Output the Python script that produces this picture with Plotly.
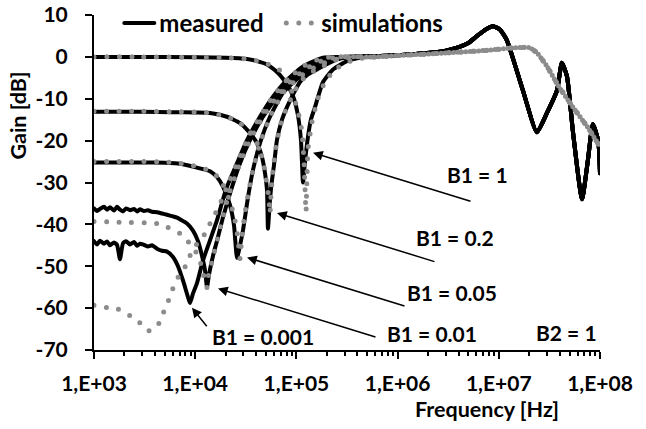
import plotly.graph_objects as go

# ---------------- data (frequency in Hz, gain in dB) ----------------
# measured, low/mid-frequency part of each B1 curve
f_meas_b1_1 = [1000, 3000, 10000, 20000, 32500, 40800, 51230, 61500, 73740, 86470, 94600, 103700, 111000,
               116200, 121600, 130200, 139000, 152700, 183200, 230000, 316000, 424600]
g_meas_b1_1 = [0, 0, -0.1, -0.2, -0.5, -1.0, -1.8, -3.2, -5.2, -7.8, -10, -14, -20,
               -30, -25, -19, -15, -12, -6, -3, -1, -0.2]

f_meas_b1_02 = [1000, 3000, 6000, 10000, 14000, 20610, 27720, 34790, 40800, 45710, 48980, 51230, 52360,
                54830, 57410, 60080, 64300, 72070, 80750, 92560, 108500, 130200, 159800, 251800, 362300]
g_meas_b1_02 = [-13.1, -13.1, -13.2, -13.3, -13.4, -14.3, -15.8, -18.2, -20.6, -23.9, -27.8, -31.8, -41,
                -34, -29.4, -25.8, -19.8, -15, -12, -9, -6, -4.2, -3, -0.6, 0]

f_meas_b1_005 = [1000, 3000, 5000, 7079, 9510, 11940, 14000, 16420, 18820, 22080, 24170, 25880, 27720,
                 29680, 33260, 37250, 43650, 54830, 73740, 108500, 171100, 288800, 424600]
g_meas_b1_005 = [-25.2, -25.2, -25.3, -25.5, -26.2, -26.8, -27.3, -28.7, -31, -35.4, -40.2, -48, -45,
                 -41.4, -33.5, -27, -20.6, -14.3, -8.6, -4.7, -1.8, -0.2, 0]

f_meas_b1_001 = [1000, 1071, 1146, 1256, 1344, 1439, 1576, 1688, 1806, 1935,
                 2071, 2268, 2485, 2660, 2848, 3120, 3417, 3742, 4194, 4699,
                 5265, 6035, 6612, 7079, 8298, 9510, 10660, 11670, 12500, 13080,
                 13690, 15000, 16800, 18820, 22080, 27720, 34790, 46770, 64300, 86470,
                 121600, 191700, 302100]
g_meas_b1_001 = [-36.2, -36.8, -36.3, -35.8, -36.5, -35.9, -36.7, -35.8, -36.5, -36.9,
                 -36.2, -36.6, -36.3, -36.9, -36.4, -36.8, -36.6, -37.0, -37.1, -37.4,
                 -37.7, -38.1, -38.4, -38.8, -39.8, -41.5, -44, -47.5, -51, -55,
                 -52, -47.5, -43, -38.3, -32.6, -25.4, -19.9, -14.3, -9.5, -6,
                 -3, -0.6, 0]

f_meas_b1_0001 = [1000, 1071, 1146, 1256, 1344, 1439, 1576, 1688, 1806, 1935,
                  2071, 2268, 2485, 2660, 2848, 3120, 3417, 3742, 4194, 4699,
                  5265, 6035, 6761, 7574, 8492, 8884, 9510, 10420, 11940, 14000,
                  16420, 18820, 20610, 25880, 32510, 43650, 58720, 80750, 116200, 183200,
                  269700]
g_meas_b1_0001 = [-44.0, -44.8, -43.9, -44.6, -44.1, -45.0, -44.3, -44.9, -48.3, -44.5,
                  -44.0, -44.8, -44.2, -45.1, -44.6, -44.9, -45.3, -45.0, -45.8, -46.3,
                  -46.5, -47.8, -50, -53.4, -57.4, -58.8, -56.5, -54, -48.6, -43.8,
                  -39, -34, -31, -25.4, -19.9, -14.3, -9.5, -5.5, -2.3, -0.2,
                  0]

# measured, common high-frequency part (all B1 curves coincide)
f_meas_hf = [670000, 1200000, 2090000, 3000000, 3870000, 5000000, 6100000, 7500000, 8800000, 10300000,
             12000000, 17300000, 23800000, 29900000, 37600000, 42000000, 47200000, 54100000, 66400000,
             76000000, 85000000, 96000000, 100000000]
g_meas_hf = [0.2, 0.5, 1.0, 1.5, 2.2, 3.3, 5.0, 6.6, 7.3, 6.5,
             4.0, -8, -18, -13.4, -8, -1.4, -4.7, -18, -34,
             -24.6, -16, -20, -27.8]

# simulations
f_sim_b1_1 = [1000, 3000, 10000, 20000, 32500, 45700, 58700, 68870, 80750, 92560, 103700, 113600, 118900,
              124400, 127300, 130200, 142600, 163000, 191700, 240000, 340000, 480000]
g_sim_b1_1 = [0, 0, -0.1, -0.2, -0.5, -1.2, -2.2, -3.2, -5.5, -9, -13, -18, -25,
              -37, -28, -22, -15.5, -10, -6, -3, -1, -0.2]

f_sim_b1_02 = [1000, 3000, 6000, 10000, 14000, 20610, 27720, 34790, 40800, 45710, 48980, 51230, 53600,
               54830, 56100, 58720, 64300, 72070, 80750, 92560, 108500, 130200, 159800, 251800, 362300]
g_sim_b1_02 = [-13, -13, -13.1, -13.2, -13.4, -14.3, -15.8, -18.2, -20.6, -23.9, -27.5, -30.5, -34,
               -37.4, -33, -27, -20, -15, -12, -9, -6, -4.2, -3, -0.6, 0]

f_sim_b1_005 = [1000, 3000, 5000, 7079, 9510, 11940, 14000, 16420, 18820, 22080, 24700, 26500, 27720,
                28700, 30700, 33260, 37250, 43650, 54830, 73740, 108500, 171100, 288800, 424600]
g_sim_b1_005 = [-25, -25, -25.1, -25.4, -26, -26.6, -27.2, -28.5, -30.5, -34.5, -39, -43.5, -48.2,
                -44, -38, -33, -27, -20.6, -14.3, -8.6, -4.7, -1.8, -0.2, 0]

f_sim_b1_001 = [1000, 1935, 4194, 5383, 7079, 8884, 10420, 11670, 12500, 13080, 13380, 15000, 16800,
                18820, 21090, 27720, 34790, 46770, 64300, 86470, 121600, 191700, 302100]
g_sim_b1_001 = [-39.3, -39.5, -39.8, -40.7, -42.2, -44.6, -47, -50.3, -53.9, -55.1, -52.7, -47.9, -43,
                -38.3, -33.5, -25.4, -19.9, -14.3, -9.5, -6, -3, -0.6, 0]

f_sim_b1_0001 = [1000, 1344, 1727, 2268, 2848, 3495, 4290, 4806, 5383, 5902,
                 6761, 8298, 8884, 10420, 12500, 14000, 16420, 18820, 20610, 25880,
                 32510, 43650, 58720, 80750, 116200, 183200, 269700]
g_sim_b1_0001 = [-59.3, -59.9, -60.2, -61.8, -63.5, -65.4, -64, -61.3, -58.5, -55.8,
                 -52.7, -49.4, -47.5, -44.6, -42.2, -39.8, -36.6, -33.5, -31, -25.4,
                 -19.9, -14.3, -9.5, -5.5, -2.3, -0.2, 0]

f_sim_hf = [600000, 1000000, 3300000, 8000000, 14500000, 20000000, 23800000, 30000000, 39000000,
            54000000, 75000000, 100000000]
g_sim_hf = [0, 0.3, 1.0, 1.6, 2.2, 2.2, 1.0, -2.3, -7, -12, -16.7, -21.5]

x_tickvals = [1e3, 1e4, 1e5, 1e6, 1e7, 1e8]
x_ticktext = ["1,E+03", "1,E+04", "1,E+05", "1,E+06", "1,E+07", "1,E+08"]
y_tickvals = [10, 0, -10, -20, -30, -40, -50, -60, -70]
y_ticktext = ["10", "0", "-10", "-20", "-30", "-40", "-50", "-60", "-70"]

labels_b1 = ["B1 = 1", "B1 = 0.2", "B1 = 0.05", "B1 = 0.01", "B1 = 0.001"]

# ---------------- figure ----------------
FONT = "Lato"
BLACK = "#000000"
GREY = "#8c8c8c"
SMALL = dict(family=FONT, size=21, color=BLACK, weight=700)
TITLE = dict(family=FONT, size=21.5, color=BLACK, weight=700)
BIG = dict(family=FONT, size=24, color=BLACK, weight=700)

measured = [(f_meas_b1_1, g_meas_b1_1), (f_meas_b1_02, g_meas_b1_02), (f_meas_b1_005, g_meas_b1_005),
            (f_meas_b1_001, g_meas_b1_001), (f_meas_b1_0001, g_meas_b1_0001)]
simulated = [(f_sim_b1_1, g_sim_b1_1), (f_sim_b1_02, g_sim_b1_02), (f_sim_b1_005, g_sim_b1_005),
             (f_sim_b1_001, g_sim_b1_001), (f_sim_b1_0001, g_sim_b1_0001)]

fig = go.Figure()
for i, (f, g) in enumerate(measured):
    fig.add_trace(go.Scatter(
        x=f + f_meas_hf, y=g + g_meas_hf, mode="lines",
        line=dict(color=BLACK, width=4, shape="spline", smoothing=0.5),
        name="measured", legendgroup="m", showlegend=(i == 0)))
for i, (f, g) in enumerate(simulated):
    fig.add_trace(go.Scatter(
        x=f + f_sim_hf, y=g + g_sim_hf, mode="lines",
        line=dict(color=GREY, width=5, dash="0px,12.5px", shape="spline", smoothing=0.5),
        name="simulations", legendgroup="s", showlegend=(i == 0)))

# arrows (tip in data coords: log10(f), gain)
arrow_tips = [(5.164, -22.9), (4.808, -37.3), (4.512, -47.9), (4.225, -55.3), (3.968, -59.9)]
arrow_tails = [(159, 49), (159, 49), (159, 49), (159, 49), (16, 20)]
for (tx, ty), (ax, ay) in zip(arrow_tips, arrow_tails):
    fig.add_annotation(x=tx, y=ty, xref="x", yref="y", text="", showarrow=True,
                       ax=ax, ay=ay, arrowhead=2, arrowsize=1.3, arrowwidth=1.5,
                       arrowcolor=BLACK, standoff=0, startstandoff=0)

label_pos = [(6.794, -28.2), (6.567, -43.1), (6.538, -56.3), (6.34, -66.1), (4.67, -66.8)]
for txt, (lx, ly) in zip(labels_b1, label_pos):
    fig.add_annotation(x=lx, y=ly, xref="x", yref="y", text=txt, showarrow=False,
                       xanchor="center", yanchor="middle", font=SMALL)
fig.add_annotation(x=7.664, y=-65.9, xref="x", yref="y", text="B2 = 1", showarrow=False,
                   xanchor="center", yanchor="middle", font=SMALL)

# axis titles
fig.add_annotation(x=-0.152, y=0.70, xref="paper", yref="paper", text="Gain [dB]", textangle=-90,
                   xanchor="center", yanchor="middle", showarrow=False, font=TITLE)
fig.add_annotation(x=0.777, y=-0.176, xref="paper", yref="paper", text="Frequency [Hz]",
                   xanchor="center", yanchor="middle", showarrow=False, font=TITLE)

fig.update_layout(
    width=646, height=429,
    margin=dict(l=94, r=46, t=15, b=79, autoexpand=False),
    paper_bgcolor="white", plot_bgcolor="white",
    font=SMALL,
    showlegend=True,
    legend=dict(orientation="h", x=0.05, y=0.975, xanchor="left", yanchor="middle",
                bgcolor="rgba(0,0,0,0)", font=BIG,
                itemwidth=30, tracegroupgap=0, entrywidth=117),
)
fig.update_xaxes(type="log", range=[3, 8], tickvals=x_tickvals, ticktext=x_ticktext,
                 showgrid=False, zeroline=False, showline=True, linecolor=BLACK, linewidth=2,
                 automargin=False,
                 ticks="outside", ticklen=7, tickwidth=2, tickcolor=BLACK, ticklabelstandoff=7,
                 minor=dict(ticks="outside", ticklen=4, tickwidth=1.5, tickcolor=BLACK, dtick="D1"))
fig.update_yaxes(range=[-70, 10], tickvals=y_tickvals, ticktext=y_ticktext,
                 showgrid=False, zeroline=False, showline=True, linecolor=BLACK, linewidth=2,
                 automargin=False,
                 ticks="outside", ticklen=7, tickwidth=2, tickcolor=BLACK, ticklabelstandoff=13)

post = """
var s = document.createElement('style');
s.textContent = '.js-line{stroke-linecap:round !important;stroke-linejoin:round !important;}';
document.head.appendChild(s);
"""
fig.write_html("out.html", post_script=post)
